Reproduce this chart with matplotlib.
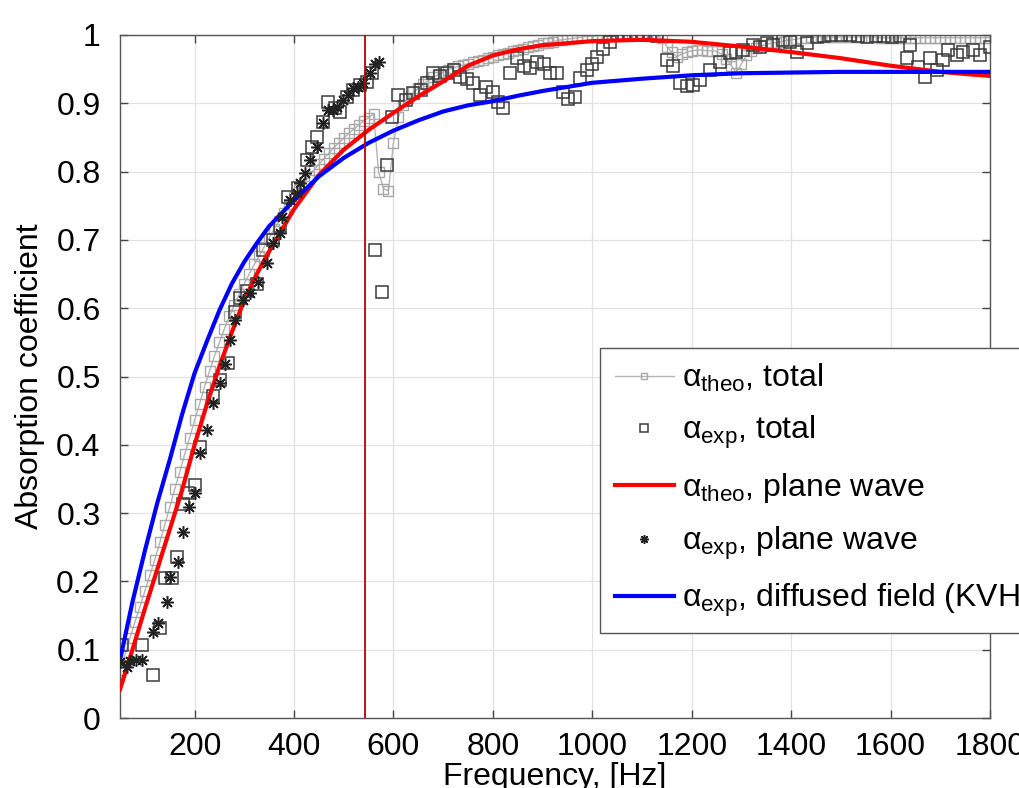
import matplotlib

matplotlib.use("Agg")
import matplotlib.pyplot as plt

plt.rcParams["font.family"] = ["Liberation Sans", "DejaVu Sans"]
plt.rcParams["mathtext.fontset"] = "custom"
plt.rcParams["mathtext.rm"] = "Liberation Sans"
plt.rcParams["mathtext.it"] = "Liberation Sans"

# theoretical total absorption (grey line with squares), 10 Hz grid
theo_freq = list(range(50, 1801, 10))
theo_total = [
    0.070, 0.093, 0.117, 0.141, 0.163, 0.186, 0.209, 0.232, 0.257, 0.283,
    0.309, 0.335, 0.360, 0.386, 0.410, 0.436, 0.460, 0.485, 0.508, 0.530,
    0.550, 0.570, 0.588, 0.605, 0.621, 0.636, 0.650, 0.664, 0.677, 0.690,
    0.703, 0.716, 0.728, 0.740, 0.752, 0.763, 0.773, 0.783, 0.793, 0.802,
    0.811, 0.819, 0.827, 0.835, 0.842, 0.849, 0.856, 0.862, 0.868, 0.874,
    0.879, 0.884, 0.800, 0.775, 0.772, 0.842, 0.880, 0.898, 0.908, 0.916,
    0.922, 0.928, 0.933, 0.938, 0.942, 0.946, 0.949, 0.952, 0.954, 0.956,
    0.958, 0.960, 0.962, 0.964, 0.966, 0.968, 0.970, 0.972, 0.974, 0.976,
    0.978, 0.980, 0.982, 0.984, 0.986, 0.988, 0.989, 0.990, 0.992, 0.993,
    0.994, 0.995, 0.996, 0.997, 0.998, 0.998, 0.999, 0.999, 1.000, 1.000,
    1.000, 1.000, 1.000, 1.000, 1.000, 1.000, 1.000, 1.000, 0.999, 0.995,
    0.983, 0.975, 0.968, 0.972, 0.975, 0.977, 0.978, 0.978, 0.977, 0.977,
    0.976, 0.972, 0.965, 0.955, 0.945, 0.958, 0.970, 0.977, 0.981, 0.984,
    0.986, 0.988, 0.989, 0.990, 0.992, 0.993, 0.994, 0.995, 0.996, 0.997,
    0.997, 0.997, 0.997, 0.997, 0.997, 0.997, 0.997, 0.997, 0.997, 0.997,
    0.997, 0.997, 0.997, 0.996, 0.996, 0.996, 0.996, 0.996, 0.996, 0.996,
    0.996, 0.996, 0.996, 0.996, 0.996, 0.996, 0.996, 0.996, 0.996, 0.996,
    0.996, 0.996, 0.996, 0.996, 0.996, 0.996,
]

# measured total absorption (black squares)
exp_total_freq = [
    53, 94, 116, 130, 140, 155, 164, 177, 187, 201, 211, 238, 251, 268, 281,
    291, 305, 325, 338, 358, 372, 388, 409, 426, 436, 446, 459, 468, 483, 493,
    506, 519, 533, 546, 556, 563, 577, 587, 597, 610, 625, 640, 655, 668, 680,
    694, 708, 722, 734, 748, 760, 774, 787, 800, 810, 821, 835, 849, 862, 875,
    889, 903, 915, 929, 941, 951, 965, 975, 989, 999, 1009, 1022, 1036, 1049,
    1063, 1076, 1090, 1103, 1117, 1130, 1150, 1163, 1176, 1190, 1203, 1217,
    1237, 1257, 1277, 1290, 1303, 1324, 1338, 1351, 1364, 1384, 1398, 1412,
    1432, 1452, 1466, 1480, 1500, 1518, 1535, 1553, 1570, 1586, 1603, 1620,
    1634, 1640, 1656, 1670, 1680, 1693, 1706, 1716, 1733, 1746, 1766, 1780, 1800,
]
exp_total = [
    0.107, 0.107, 0.063, 0.132, 0.205, 0.205, 0.236, 0.314, 0.329, 0.341, 0.397,
    0.471, 0.495, 0.520, 0.595, 0.615, 0.625, 0.635, 0.685, 0.700, 0.720, 0.763,
    0.776, 0.817, 0.836, 0.851, 0.873, 0.902, 0.893, 0.887, 0.909, 0.919, 0.927,
    0.931, 0.944, 0.685, 0.624, 0.810, 0.880, 0.912, 0.905, 0.915, 0.920, 0.930,
    0.944, 0.940, 0.944, 0.949, 0.939, 0.935, 0.929, 0.912, 0.924, 0.916, 0.902,
    0.893, 0.944, 0.966, 0.955, 0.952, 0.961, 0.958, 0.944, 0.944, 0.917, 0.907,
    0.909, 0.937, 0.949, 0.958, 0.968, 0.980, 0.990, 1.000, 1.000, 1.000, 1.000,
    1.000, 1.000, 0.998, 0.963, 0.955, 0.930, 0.925, 0.927, 0.934, 0.949, 0.960,
    0.973, 0.975, 0.978, 0.985, 0.982, 0.988, 0.985, 0.993, 0.990, 0.975, 0.988,
    0.997, 0.998, 1.000, 1.000, 1.000, 0.998, 0.997, 0.998, 0.998, 0.997, 0.998,
    0.966, 0.985, 0.953, 0.938, 0.966, 0.949, 0.963, 0.978, 0.971, 0.975, 0.978,
    0.971, 0.982,
]

# measured plane-wave absorption (asterisks)
exp_pw_freq = [
    50, 63, 70, 83, 94, 116, 127, 144, 151, 167, 177, 188, 201, 211, 225, 238,
    251, 261, 271, 281, 298, 311, 328, 345, 358, 372, 375, 392, 405, 412, 422,
    432, 446, 459, 468, 478, 486, 499, 509, 519, 529, 539, 553, 563, 570,
]
exp_pw = [
    0.082, 0.075, 0.083, 0.085, 0.085, 0.126, 0.139, 0.170, 0.207, 0.228, 0.272,
    0.309, 0.329, 0.388, 0.422, 0.461, 0.490, 0.519, 0.553, 0.583, 0.612, 0.622,
    0.638, 0.666, 0.695, 0.710, 0.734, 0.758, 0.768, 0.783, 0.798, 0.817, 0.836,
    0.871, 0.890, 0.890, 0.895, 0.905, 0.912, 0.922, 0.924, 0.929, 0.944, 0.958,
    0.960,
]

# smooth curves
curve_freq = [50, 75, 100, 125, 150, 175, 200, 225, 250, 275, 300, 325, 350,
              400, 450, 500, 550, 600, 650, 700, 750, 800, 850, 900, 1000, 1100,
              1200, 1300, 1400, 1500, 1600, 1700, 1800]
theo_pw = [0.042, 0.100, 0.160, 0.218, 0.276, 0.334, 0.400, 0.460, 0.515,
           0.565, 0.612, 0.650, 0.683, 0.745, 0.795, 0.832, 0.861, 0.886,
           0.910, 0.932, 0.955, 0.970, 0.979, 0.985, 0.991, 0.993, 0.990,
           0.983, 0.975, 0.966, 0.955, 0.946, 0.940]
exp_kvh = [0.085, 0.170, 0.245, 0.315, 0.378, 0.445, 0.505, 0.552, 0.597,
           0.636, 0.668, 0.695, 0.720, 0.758, 0.793, 0.820, 0.842, 0.860,
           0.875, 0.888, 0.897, 0.903, 0.911, 0.918, 0.930, 0.936, 0.941,
           0.944, 0.945, 0.946, 0.946, 0.946, 0.946]

cutoff_freq = 543

fig = plt.figure(figsize=(10.19, 7.88), dpi=100)
ax = fig.add_axes([0.1178, 0.0888, 0.8537, 0.8668])

ax.plot(theo_freq, theo_total, color="#b4b4b4", linewidth=1.0, marker="s",
        markersize=7, markerfacecolor="none", markeredgecolor="#a8a8a8",
        markeredgewidth=1.0, label=r"$\alpha_{\rm theo}$, total", zorder=2)
ax.plot(exp_total_freq, exp_total, linestyle="none", marker="s", markersize=8,
        markerfacecolor="none", markeredgecolor="#3a3a3a", markeredgewidth=1.1,
        label=r"$\alpha_{\rm exp}$, total", zorder=3)
ax.plot(curve_freq, theo_pw, color="#ff0000", linewidth=3.0,
        label=r"$\alpha_{\rm theo}$, plane wave", zorder=4)
ax.plot(exp_pw_freq, exp_pw, linestyle="none", marker=(8, 2, 0), markersize=9,
        color="#222222", markeredgewidth=1.1,
        label=r"$\alpha_{\rm exp}$, plane wave", zorder=5)
ax.plot(curve_freq, exp_kvh, color="#0000ff", linewidth=3.0,
        label=r"$\alpha_{\rm exp}$, diffused field (KVH)", zorder=4)
ax.axvline(cutoff_freq, color="#c00000", linewidth=1.3, zorder=6)

ax.set_xlim(50, 1800)
ax.set_ylim(0, 1)
ax.set_xticks(range(200, 1801, 200))
ax.set_yticks([i / 10 for i in range(11)])
ax.set_yticklabels(["0", "0.1", "0.2", "0.3", "0.4", "0.5", "0.6", "0.7",
                    "0.8", "0.9", "1"])
ax.tick_params(direction="in", top=True, right=True, length=6, width=1,
               color="#444444", labelsize=23)
ax.tick_params(axis="y", pad=14)
ax.tick_params(axis="x", pad=10)
for spine in ax.spines.values():
    spine.set_color("#555555")
    spine.set_linewidth(1.0)
ax.grid(True, color="#e2e2e2", linewidth=0.9)
ax.set_axisbelow(True)

ax.set_xlabel("Frequency, [Hz]", fontsize=23, labelpad=0)
ax.set_ylabel("Absorption coefficient", fontsize=23, labelpad=8)

leg = ax.legend(loc="upper left", bbox_to_anchor=(0.552, 0.542),
                borderaxespad=0, fontsize=23, frameon=True, fancybox=False,
                framealpha=1, edgecolor="#555555", handlelength=1.85,
                handletextpad=0.25, labelspacing=0.62, borderpad=0.45,
                markerscale=0.7)
leg.get_frame().set_linewidth(1.0)
leg.set_zorder(10)

fig.savefig("out.png", dpi=100)
plt.close(fig)
